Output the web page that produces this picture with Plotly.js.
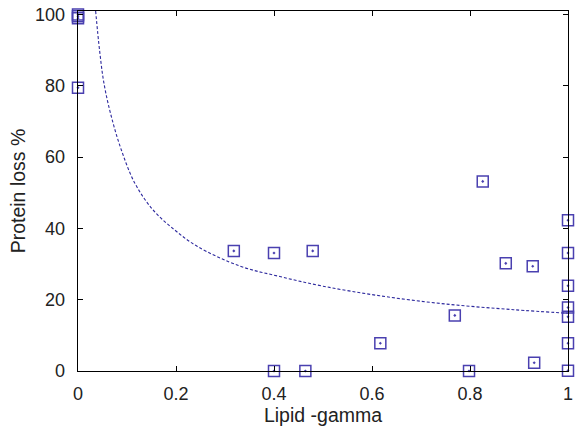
<!DOCTYPE html>
<html>
<head>
<meta charset="utf-8">
<script src="https://cdn.plot.ly/plotly-3.0.1.min.js"></script>
<style>html,body{margin:0;padding:0;background:#fff}#chart{width:576px;height:433px}</style>
</head>
<body>
<div id="chart"></div>
<script>
// Measured data points (Lipid -gamma vs Protein loss %)
const lipidGamma = [0, 0, 0, 0, 0.318, 0.40, 0.479, 0.40, 0.464, 0.617, 0.769, 0.798, 0.826, 0.873, 0.928, 0.931, 1, 1, 1, 1, 1, 1, 1];
const proteinLoss = [100, 99.5, 99, 79.5, 33.7, 33.1, 33.7, 0, 0, 7.8, 15.6, 0, 53.2, 30.2, 29.4, 2.3, 42.3, 33.1, 23.9, 17.8, 15.2, 7.8, 0.1];

// Fitted curve
const fitX = [0.036, 0.044, 0.053, 0.068, 0.0885, 0.116, 0.153, 0.197, 0.243, 0.331, 0.412, 0.5, 0.616, 0.75, 0.889, 1.0];
const fitY = [101, 90, 80.7, 71.4, 62, 52.7, 45.2, 39.6, 35.0, 29.4, 26.5, 23.8, 21.1, 18.8, 17.2, 16.2];

const xTicks = [0, 0.2, 0.4, 0.6, 0.8, 1];
const xTickText = ['0', '0.2', '0.4', '0.6', '0.8', '1'];
const yTicks = [0, 20, 40, 60, 80, 100];
const yTickText = ['0', '20', '40', '60', '80', '100'];

const col = '#4a40b0';
const fontFam = 'Liberation Sans, Arial, sans-serif';

const traces = [
  {
    x: fitX, y: fitY, mode: 'lines', type: 'scatter',
    line: {color: '#2e2a9e', width: 1.1, dash: '3px,2px', shape: 'spline'},
    hoverinfo: 'skip', cliponaxis: true
  },
  {
    x: lipidGamma, y: proteinLoss, mode: 'markers', type: 'scatter',
    marker: {symbol: 'square-open-dot', size: 11, color: col, line: {color: col, width: 1.5}},
    cliponaxis: false
  }
];

const axisCommon = {
  showline: true, linecolor: '#000', linewidth: 1.3, mirror: 'ticks',
  ticks: 'inside', ticklen: 5, tickwidth: 1, tickcolor: '#000',
  showgrid: false, zeroline: false,
  tickfont: {family: fontFam, size: 18, color: '#222'}
};

const layout = {
  width: 576, height: 433,
  margin: {l: 78, r: 8, t: 11, b: 62},
  showlegend: false,
  paper_bgcolor: '#fff', plot_bgcolor: '#fff',
  xaxis: Object.assign({}, axisCommon, {
    range: [0, 1], tickvals: xTicks, ticktext: xTickText, ticklabelstandoff: 6,
    title: {text: 'Lipid -gamma', font: {family: fontFam, size: 19.5, color: '#222'}, standoff: 5}
  }),
  yaxis: Object.assign({}, axisCommon, {
    range: [0, 101], tickvals: yTicks, ticktext: yTickText, ticklabelstandoff: 8,
    title: {text: 'Protein loss %', font: {family: fontFam, size: 19.5, color: '#222'}, standoff: 4}
  })
};

Plotly.newPlot('chart', traces, layout, {staticPlot: true, displayModeBar: false});
</script>
</body>
</html>
